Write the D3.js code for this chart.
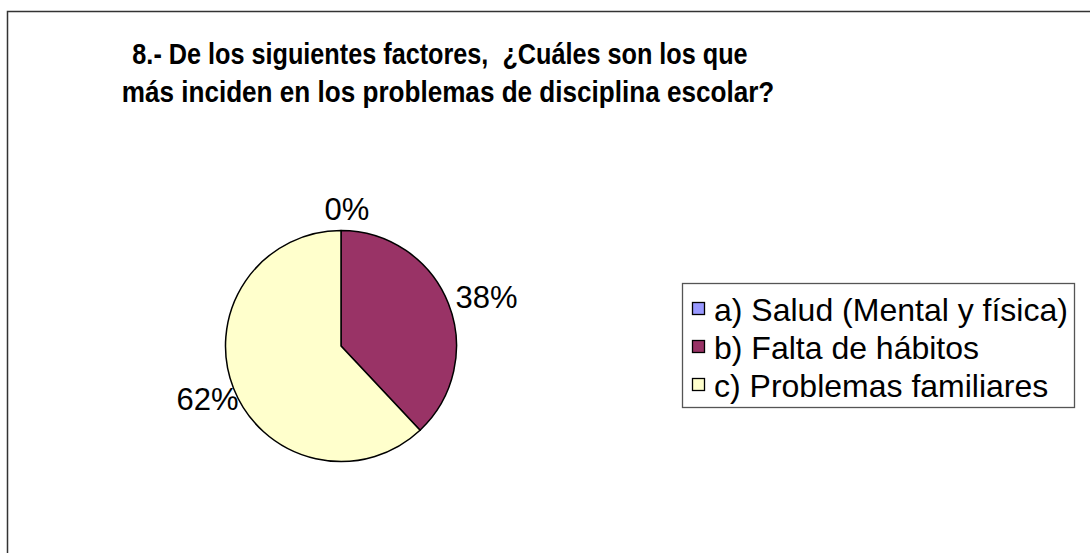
<!DOCTYPE html>
<html>
<head>
<meta charset="utf-8">
<script src="https://cdn.jsdelivr.net/npm/d3@7"></script>
<style>
  html, body { margin: 0; padding: 0; background: #fff; }
  svg { display: block; font-family: Arial, "Liberation Sans", sans-serif; }
</style>
</head>
<body>
<svg id="chart" width="1090" height="553"></svg>
<script>
// Survey question 8: factors behind school discipline problems
const titleLines = [
  "8.- De los siguientes factores,  ¿Cuáles son los que",
  "más inciden en los problemas de disciplina escolar?"
];
const categories = [
  "a) Salud (Mental y física)",
  "b) Falta de hábitos",
  "c) Problemas familiares"
];
const values = [0, 38, 62];
const colors = ["#9999FF", "#993366", "#FFFFCC"];

const svg = d3.select("#chart");
const W = 1090, H = 553;

// outer chart frame (runs off the right and bottom edges)
svg.append("rect")
  .attr("x", 7.5).attr("y", 11.5)
  .attr("width", W + 20).attr("height", H + 20)
  .attr("fill", "#fff")
  .attr("stroke", "#333").attr("stroke-width", 1.5);

// title: bold, slightly condensed
const titleCx = [440, 448];
svg.append("g").selectAll("text")
  .data(titleLines)
  .join("text")
  .attr("transform", (d, i) => `translate(${titleCx[i]},${64 + i * 38}) scale(${i === 0 ? 0.87 : 0.9},1)`)
  .attr("text-anchor", "middle")
  .attr("font-size", 29)
  .attr("font-weight", "bold")
  .attr("fill", "#000")
  .style("white-space", "pre")
  .attr("xml:space", "preserve")
  .text(d => d);

// pie
const cx = 341, cy = 346, R = 115.5;
const data = categories.map((c, i) => ({ name: c, value: values[i], color: colors[i] }));
const pie = d3.pie().sort(null).value(d => d.value);
const arcs = pie(data);
const arc = d3.arc().innerRadius(0).outerRadius(R);

const gPie = svg.append("g").attr("transform", `translate(${cx},${cy})`);
gPie.selectAll("path")
  .data(arcs.filter(d => d.data.value > 0))
  .join("path")
  .attr("d", arc)
  .attr("fill", d => d.data.color)
  .attr("stroke", "#000")
  .attr("stroke-width", 1.5)
  .attr("stroke-linejoin", "round");

// percentage labels outside the pie
const total = d3.sum(values);
const fmt = v => Math.round(v / total * 100) + "%";
const labels = gPie.selectAll("text.pct")
  .data(arcs)
  .join("text")
  .attr("class", "pct")
  .attr("font-size", 31)
  .attr("fill", "#000")
  .attr("text-anchor", "middle")
  .text(d => fmt(d.data.value));
labels.each(function(d) {
  const a = (d.startAngle + d.endAngle) / 2;
  const s = Math.sin(a), c = -Math.cos(a);
  const w = this.getComputedTextLength();
  const x = 6 + (119 + w / 2) * s;
  const y = 13 + 139 * c;
  d3.select(this).attr("x", x).attr("y", y);
});

// legend
const lg = svg.append("g");
lg.append("rect")
  .attr("x", 682.5).attr("y", 283.5)
  .attr("width", 392).attr("height", 124)
  .attr("fill", "#fff")
  .attr("stroke", "#555").attr("stroke-width", 1.3);
const rows = lg.selectAll("g.row")
  .data(data)
  .join("g")
  .attr("class", "row")
  .attr("transform", (d, i) => `translate(0,${321 + i * 38})`);
rows.append("rect")
  .attr("x", 692.5).attr("y", -18.5)
  .attr("width", 12).attr("height", 12)
  .attr("fill", d => d.color)
  .attr("stroke", "#000").attr("stroke-width", 1.3);
rows.append("text")
  .attr("x", 714)
  .attr("y", 0)
  .attr("font-size", 32)
  .attr("fill", "#000")
  .text(d => d.name);
</script>
</body>
</html>
